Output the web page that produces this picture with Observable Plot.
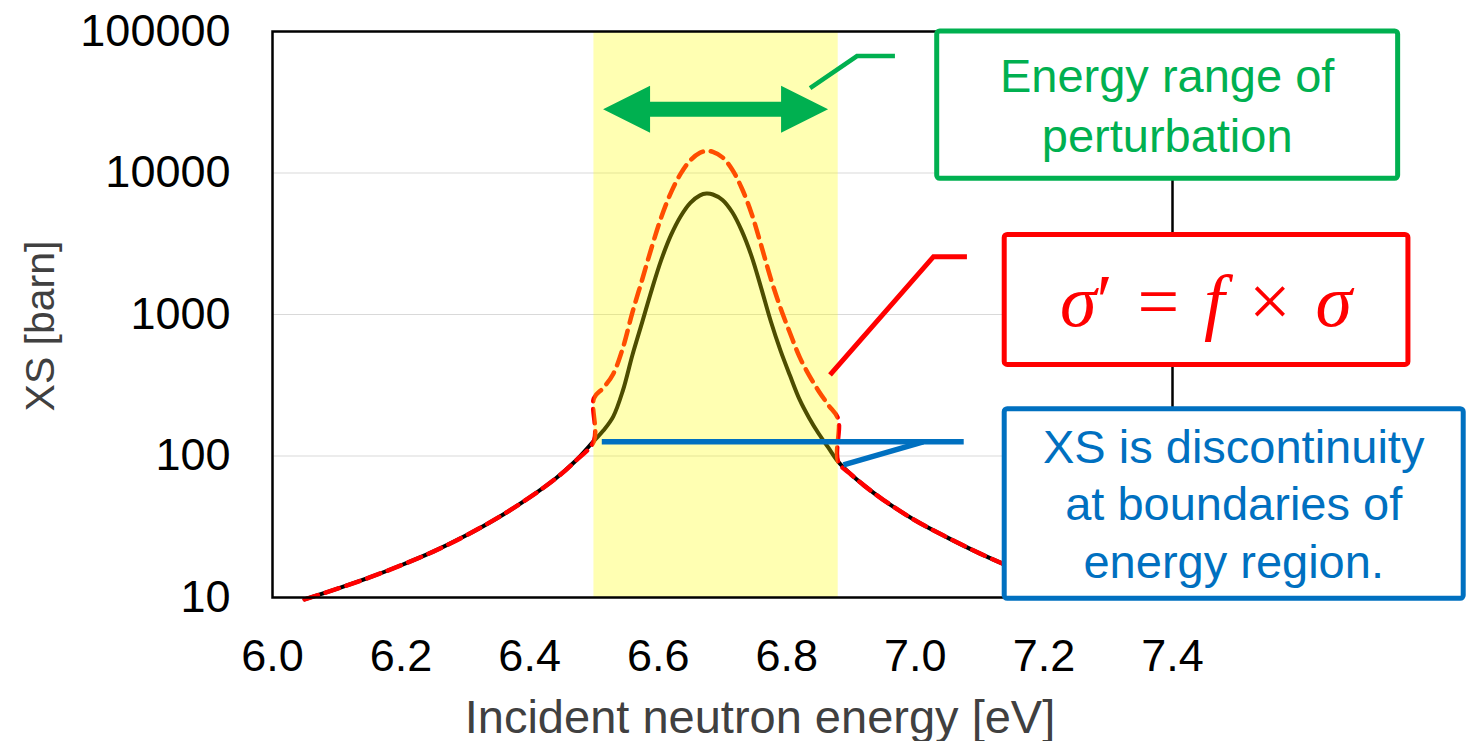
<!DOCTYPE html>
<html>
<head>
<meta charset="utf-8">
<script src="https://cdn.jsdelivr.net/npm/d3@7"></script>
<script src="https://cdn.jsdelivr.net/npm/@observablehq/plot@0.6"></script>
<style>
  html, body { margin: 0; padding: 0; background: #ffffff; }
  #chart { width: 1468px; height: 741px; }
</style>
</head>
<body>
<div id="chart"></div>
<script>
// ---- Data ----
// Original cross section (solid line), energy in eV, XS in barn
const energy = [6.05, 6.10, 6.15, 6.20, 6.25, 6.30, 6.35, 6.40, 6.44, 6.47, 6.50,
  6.515, 6.53, 6.545, 6.56, 6.575, 6.59, 6.605, 6.62, 6.635, 6.65, 6.665, 6.675,
  6.685, 6.70, 6.715, 6.73, 6.745, 6.76, 6.775, 6.79, 6.805, 6.82, 6.835, 6.85,
  6.865, 6.88, 6.90, 6.92, 6.95, 7.00, 7.05, 7.10, 7.15, 7.20, 7.25];
const xsOriginal = [9.7, 11.5, 13.8, 16.9, 21.1, 27.3, 36.5, 51, 69, 91, 128,
  152, 190, 290, 520, 880, 1500, 2450, 3650, 4950, 6150, 6950, 7150,
  7050, 6450, 5300, 3900, 2600, 1550, 900, 560, 370, 250, 185, 143,
  114, 91, 74, 62, 49, 35, 26.5, 20.5, 16.3, 13.4, 11.2];

// Perturbed cross section (dashed line), with jumps at the range boundaries
const energyPerturbed = [6.05, 6.10, 6.15, 6.20, 6.25, 6.30, 6.35, 6.40, 6.44, 6.47, 6.50,
  6.50, 6.515, 6.53, 6.545, 6.56, 6.575, 6.59, 6.605, 6.62, 6.635, 6.65, 6.665, 6.675,
  6.685, 6.70, 6.715, 6.73, 6.745, 6.76, 6.775, 6.79, 6.805, 6.82, 6.835, 6.85,
  6.865, 6.88, 6.88, 6.90, 6.92, 6.95, 7.00, 7.05, 7.10, 7.15, 7.20, 7.25];
const xsPerturbed = [9.7, 11.5, 13.8, 16.9, 21.1, 27.3, 36.5, 51, 69, 91, 128,
  256, 304, 380, 580, 1040, 1760, 3000, 4900, 7300, 9900, 12300, 13900, 14300,
  14100, 12900, 10600, 7800, 5200, 3100, 1800, 1120, 740, 500, 370, 286,
  228, 182, 91, 74, 62, 49, 35, 26.5, 20.5, 16.3, 13.4, 11.2];

const perturbRange = [6.5, 6.88];
const xTicks = [6.0, 6.2, 6.4, 6.6, 6.8, 7.0, 7.2, 7.4];
const yTicks = [10, 100, 1000, 10000, 100000];
const xTitle = "Incident neutron energy [eV]";
const yTitle = "XS [barn]";
const greenText = ["Energy range of", "perturbation"];
const blueText = ["XS is discontinuity", "at boundaries of", "energy region."];

// ---- Annotation geometry (in data units: eV, barn) ----
const arrowSpan = [6.515, 6.865], arrowLevel = 28000;
const greenLeader = [[6.837, 39500], [6.910, 66500], [6.969, 66500]];
const redLeader = [[6.868, 371], [7.029, 2540], [7.081, 2540]];
const blueLeaders = [
  [[6.513, 125], [7.076, 125]],
  [[6.889, 86], [7.013, 125]]
];
const greenBox = {x1: 7.034, x2: 7.751, y1: 100000, y2: 9100};
const redBox = {x1: 7.139, x2: 7.767, y1: 3650, y2: 440};
const blueBox = {x1: 7.139, x2: 7.853, y1: 214, y2: 9.8};

const GREEN = "#00B050", RED = "#FF0000", BLUE = "#0070C0";

const original = energy.map((e, i) => ({e, xs: xsOriginal[i]}));
const perturbed = energyPerturbed.map((e, i) => ({e, xs: xsPerturbed[i]}));

const plot = Plot.plot({
  width: 1468,
  height: 741,
  marginLeft: 272,
  marginRight: 296,
  marginTop: 31,
  marginBottom: 144,
  style: {fontFamily: "'Liberation Sans', Arial, sans-serif", fontSize: "45px", color: "black", background: "white", overflow: "visible"},
  x: {domain: [6.0, 7.4], ticks: xTicks, tickFormat: d => d.toFixed(1), tickSize: 0, tickPadding: 42, label: null},
  y: {type: "log", domain: [10, 100000], ticks: yTicks, tickFormat: d => String(d), tickSize: 0, tickPadding: 42, label: null},
  marks: [
    Plot.ruleY(yTicks.slice(1, -1), {stroke: "#d9d9d9", strokeWidth: 1.2}),
    Plot.line(original, {x: "e", y: "xs", stroke: "black", strokeWidth: 4, curve: "catmull-rom"}),
    Plot.line(perturbed, {x: "e", y: "xs", stroke: RED, strokeWidth: 4.5, strokeDasharray: "14,8", curve: "catmull-rom"}),
    Plot.rect([perturbRange], {x1: d => d[0], x2: d => d[1], y1: yTicks[0], y2: yTicks[yTicks.length - 1], fill: "#ffff00", fillOpacity: 0.3}),
    Plot.frame({stroke: "black", strokeWidth: 2.5})
  ]
});

document.getElementById("chart").appendChild(plot);

// ---- Annotations, positioned through the plot's own scales ----
const sx = plot.scale("x"), sy = plot.scale("y");
const px = v => sx.apply(v), py = v => sy.apply(v);
const svg = d3.select(plot);
const g = svg.append("g");
const FONT = "'Liberation Sans', Arial, sans-serif";

// axis titles
const frameLeft = px(6.0), frameRight = px(7.4), frameTop = py(100000), frameBottom = py(10);
g.append("text").text(xTitle)
  .attr("x", (frameLeft + frameRight) / 2 + 38).attr("y", frameBottom + 136)
  .attr("text-anchor", "middle").attr("font-family", FONT).attr("font-size", 47).attr("fill", "#404040");
g.append("text").text(yTitle)
  .attr("transform", `translate(${frameLeft - 232},${(frameTop + frameBottom) / 2 + 12}) rotate(-90)`)
  .attr("text-anchor", "middle").attr("dy", "0.35em").attr("font-family", FONT).attr("font-size", 41).attr("fill", "#404040");

// double-headed green arrow
{
  const a0 = px(arrowSpan[0]), a1 = px(arrowSpan[1]), ay = py(arrowLevel);
  const hl = 47, hh = 23.5, sh = 7.5;
  g.append("path")
    .attr("d", `M${a0},${ay}L${a0 + hl},${ay - hh}L${a0 + hl},${ay - sh}L${a1 - hl},${ay - sh}L${a1 - hl},${ay - hh}L${a1},${ay}L${a1 - hl},${ay + hh}L${a1 - hl},${ay + sh}L${a0 + hl},${ay + sh}L${a0 + hl},${ay + hh}Z`)
    .attr("fill", GREEN);
}

const poly = (pts, color, w) => g.append("polyline")
  .attr("points", pts.map(([e, v]) => `${px(e)},${py(v)}`).join(" "))
  .attr("fill", "none").attr("stroke", color).attr("stroke-width", w)
  .attr("stroke-linejoin", "miter");
poly(greenLeader, GREEN, 4.5);
poly(redLeader, RED, 5);
blueLeaders.forEach(l => poly(l, BLUE, 5.5));

const box = (b, color) => {
  const x = px(b.x1), y = py(b.y1), w = px(b.x2) - x, h = py(b.y2) - y;
  g.append("rect").attr("x", x).attr("y", y).attr("width", w).attr("height", h)
    .attr("rx", 3).attr("fill", "white").attr("stroke", color).attr("stroke-width", 5);
  return {cx: x + w / 2, cy: y + h / 2};
};
const lines = (c, arr, color, size, lh) => {
  const n = arr.length;
  arr.forEach((s, i) => {
    g.append("text").text(s)
      .attr("x", c.cx).attr("y", c.cy + (i - (n - 1) / 2) * lh + size * 0.36)
      .attr("text-anchor", "middle").attr("font-family", FONT).attr("font-size", size).attr("fill", color);
  });
};

const gc = box(greenBox, GREEN);
lines(gc, greenText, GREEN, 47, 60);
const rc = box(redBox, RED);
{
  const t = g.append("text").attr("x", rc.cx).attr("y", rc.cy + 27)
    .attr("text-anchor", "middle").attr("font-family", "'Liberation Serif', 'DejaVu Serif', serif")
    .attr("font-size", 74).attr("fill", RED);
  t.append("tspan").attr("font-style", "italic").text("\u03C3");
  t.append("tspan").text("\u2032\u2004=\u2004");
  t.append("tspan").attr("font-style", "italic").text("f");
  t.append("tspan").text("\u2004\u00D7\u2004");
  t.append("tspan").attr("font-style", "italic").text("\u03C3");
}
const bc = box(blueBox, BLUE);
lines(bc, blueText, BLUE, 47, 57.5);
</script>
</body>
</html>
